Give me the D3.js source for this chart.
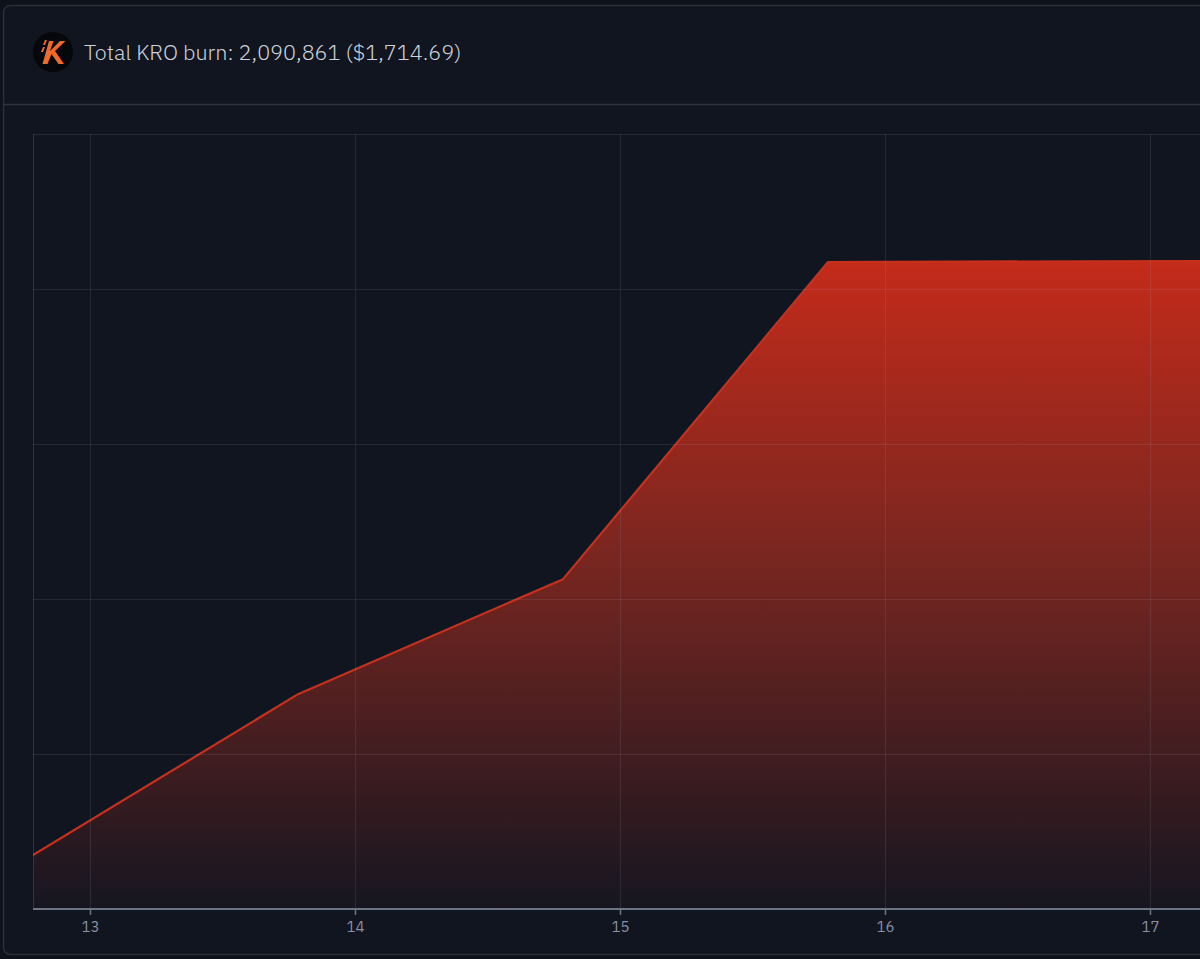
<!DOCTYPE html>
<html><head><meta charset="utf-8">
<script src="https://cdn.jsdelivr.net/npm/d3@7"></script>
<style>
html,body{margin:0;padding:0;background:#0e121a;overflow:hidden;}
svg{display:block;}
</style></head>
<body>
<svg id="c" width="1200" height="959"></svg>
<script>
const titleText = "Total KRO burn: 2,090,861 ($1,714.69)";
const days = [12.785, 13.785, 14.785, 15.785, 16.785, 17.785];
const burned = [174000, 693000, 1064000, 2087000, 2089500, 2090861];
const xTicks = [13, 14, 15, 16, 17];
const yTicks = [0, 500000, 1000000, 1500000, 2000000, 2500000];

(function(){
const svg = d3.select("#c");
// card
svg.append("rect").attr("x",3.5).attr("y",5.5).attr("width",1300).attr("height",949)
  .attr("rx",7).attr("fill","#11151f").attr("stroke","#2b303b").attr("stroke-width",1.5);
svg.append("line").attr("x1",4).attr("x2",1200).attr("y1",104.5).attr("y2",104.5)
  .attr("stroke","#2f3540").attr("stroke-width",1.5);

// logo
const logo = svg.append("g").attr("transform","translate(53,52)");
logo.append("circle").attr("r",20).attr("fill","#06070a");
logo.append("path").attr("d","M-4,-11 L0.5,-11 L-3,-1 L7,-11 L12.5,-11 L2,-1 L11,12 L5.5,12 L-1.5,2 L-5.5,12 L-10.5,12 Z")
  .attr("fill","#f26a2b");
logo.append("path").attr("d","M-8,-12 L-6,-12 L-8,-7 L-10,-7 Z M-10,-5 L-8,-5 L-10,0 L-12,0 Z").attr("fill","#f26a2b");

svg.append("text").attr("x",84).attr("y",60).text(titleText)
  .attr("font-family","'IBM Plex Sans', Inter, 'Open Sans', sans-serif").attr("font-size",21.6)
  .attr("font-weight",300)
  .attr("fill","#cdd1d9");

// plot
const pLeft = 33, pTop = 134, pBottom = 909;
const x = d3.scaleLinear().domain([days[0], days[days.length-1]]).range([pLeft, pLeft + 265*(days[days.length-1]-days[0])]);
const y = d3.scaleLinear().domain([0, 2500000]).range([pBottom, pTop]);

const defs = svg.append("defs");
const grad = defs.append("linearGradient").attr("id","g").attr("x1",0).attr("x2",0)
  .attr("gradientUnits","userSpaceOnUse").attr("y1", y(2090861)).attr("y2", pBottom);
grad.append("stop").attr("offset","0%").attr("stop-color","#c42b1a");
grad.append("stop").attr("offset","45%").attr("stop-color","#7a2620");
grad.append("stop").attr("offset","100%").attr("stop-color","#161620");

defs.append("clipPath").attr("id","clip").append("rect").attr("x",pLeft).attr("y",pTop-2).attr("width",1300).attr("height",pBottom-pTop+2);

const pts = days.map((d,i)=>[d,burned[i]]);
const area = d3.area().x(d=>x(d[0])).y0(pBottom).y1(d=>y(d[1]));
const line = d3.line().x(d=>x(d[0])).y(d=>y(d[1]));

const plot = svg.append("g").attr("clip-path","url(#clip)");
plot.append("path").datum(pts).attr("d",area).attr("fill","url(#g)");

// grid
const grid = svg.append("g");
grid.selectAll("line.h").data(yTicks.slice(1)).join("line")
  .attr("x1",pLeft).attr("x2",1200).attr("y1",d=>Math.round(y(d))+0.5).attr("y2",d=>Math.round(y(d))+0.5)
  .attr("stroke","#9aa3b5").attr("stroke-opacity",0.14).attr("stroke-width",1);
grid.selectAll("line.v").data(xTicks).join("line")
  .attr("y1",pTop).attr("y2",pBottom).attr("x1",d=>Math.round(x(d))+0.5).attr("x2",d=>Math.round(x(d))+0.5)
  .attr("stroke","#9aa3b5").attr("stroke-opacity",0.14).attr("stroke-width",1);
grid.append("line").attr("x1",pLeft+0.5).attr("x2",pLeft+0.5).attr("y1",pTop).attr("y2",pBottom)
  .attr("stroke","#9aa3b5").attr("stroke-opacity",0.2);

plot.append("path").datum(pts).attr("d",line).attr("fill","none")
  .attr("stroke","#c8301c").attr("stroke-width",2.2).attr("stroke-linejoin","round");

// x axis
const ax = svg.append("g").attr("transform",`translate(0,${pBottom})`)
  .call(d3.axisBottom(x).tickValues(xTicks).tickSize(6).tickPadding(6).tickFormat(d3.format("d")));
ax.select(".domain").attr("d",`M${pLeft},0H1200`).attr("stroke","#6e7585").attr("stroke-width",2);
ax.selectAll(".tick line").attr("stroke","#6e7585").attr("stroke-width",1.5);
ax.selectAll(".tick text").attr("fill","#8a90a0").attr("font-size",15)
  .attr("font-family","'IBM Plex Sans', Inter, 'Open Sans', sans-serif");
})();
</script>
</body></html>
